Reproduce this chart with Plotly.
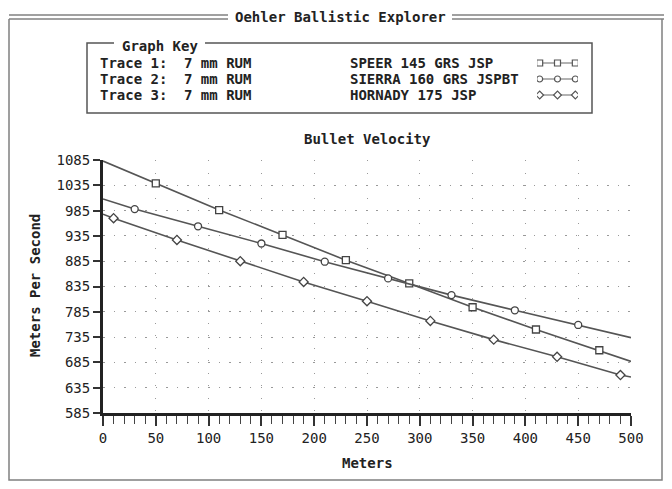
import plotly.graph_objects as go

# page has an 8px body margin, so the figure is drawn 8px in from the window edge
OFF = 8
W, H = 672 - 2 * OFF, 489 - 2 * OFF

# ---- data ----
dist1 = [0, 50, 110, 170, 230, 290, 350, 410, 470, 500]
vel1 = [1083, 1039, 986, 937, 887, 841, 794, 750, 709, 687]
dist2 = [0, 30, 90, 150, 210, 270, 330, 390, 450, 500]
vel2 = [1008, 988, 954, 920, 884, 851, 818, 788, 759, 734]
dist3 = [0, 10, 70, 130, 190, 250, 310, 370, 430, 490, 500]
vel3 = [978, 970, 927, 885, 844, 806, 767, 730, 696, 660, 656]

trace_labels = ["Trace 1:", "Trace 2:", "Trace 3:"]
cartridges = ["7 mm RUM", "7 mm RUM", "7 mm RUM"]
bullets = ["SPEER 145 GRS JSP", "SIERRA 160 GRS JSPBT", "HORNADY 175 JSP"]
symbols = ["square", "circle", "diamond"]

y_ticks = list(range(585, 1086, 50))
x_ticks = list(range(0, 501, 50))

FONT = "DejaVu Sans Mono"
TXT = "#222222"


def px(x):
    return (x - OFF) / W


def py(y):
    return 1 - (y - OFF) / H


fig = go.Figure()

series = [(dist1, vel1), (dist2, vel2), (dist3, vel3)]
for (d, v), sym in zip(series, symbols):
    fig.add_trace(go.Scatter(x=d, y=v, mode="lines",
                             line=dict(color="#555555", width=1.6),
                             hoverinfo="skip", showlegend=False))
    # markers at interior points (first and last points are curve ends only)
    fig.add_trace(go.Scatter(x=d[1:-1], y=v[1:-1], mode="markers",
                             marker=dict(symbol=sym, size=7, color="white",
                                         line=dict(color="#444444", width=1.3)),
                             showlegend=False))

# legend samples (inset axis)
for i, sym in enumerate(symbols):
    fig.add_trace(go.Scatter(x=[0, 1, 2], y=[i, i, i], mode="lines+markers",
                             xaxis="x2", yaxis="y2",
                             line=dict(color="#666666", width=1.2),
                             marker=dict(symbol=sym, size=6, color="white",
                                         line=dict(color="#555555", width=1.2)),
                             showlegend=False, hoverinfo="skip"))

fig.update_layout(
    width=W, height=H,
    margin=dict(l=0, r=0, t=0, b=0, autoexpand=False),
    paper_bgcolor="white", plot_bgcolor="white",
    font=dict(family=FONT, size=14, color=TXT),
    xaxis=dict(domain=[px(103), px(631)], range=[0, 500], automargin=False,
               tickvals=x_ticks, ticks="outside", ticklen=10, tickwidth=1.5,
               tickcolor="#333", showline=True, linewidth=3, linecolor="#222",
               showgrid=True, gridcolor="#999999", gridwidth=1,
               griddash="1px,11.5px", zeroline=False,
               tickfont=dict(family=FONT, size=14, color=TXT),
               minor=dict(dtick=10, ticks="outside", ticklen=8, tickwidth=1.2,
                          tickcolor="#444", showgrid=False),
               fixedrange=True),
    yaxis=dict(domain=[py(413), py(160)], range=[585, 1085], automargin=False,
               tickvals=y_ticks, ticks="outside", ticklen=7, tickwidth=1.5,
               tickcolor="#333", showline=True, linewidth=3, linecolor="#222",
               showgrid=True, gridcolor="#999999", gridwidth=1,
               griddash="1.5px,9px", zeroline=False,
               tickfont=dict(family=FONT, size=14, color=TXT),
               fixedrange=True),
    xaxis2=dict(domain=[px(537), px(578)], range=[-0.15, 2.15], visible=False,
                anchor="y2", automargin=False, fixedrange=True),
    yaxis2=dict(domain=[py(103), py(55)], range=[2.5, -0.5], visible=False,
                anchor="x2", automargin=False, fixedrange=True),
)

# frame and legend box shapes
shapes = []
frame_col = "#808080"
for yy in (15, 19):
    shapes.append(dict(type="line", xref="paper", yref="paper",
                       x0=px(9), x1=px(228), y0=py(yy), y1=py(yy),
                       line=dict(color=frame_col, width=1.3)))
    shapes.append(dict(type="line", xref="paper", yref="paper",
                       x0=px(452), x1=px(664), y0=py(yy), y1=py(yy),
                       line=dict(color=frame_col, width=1.3)))
shapes.append(dict(type="path", xref="paper", yref="paper",
                   path=f"M {px(9)},{py(19)} L {px(9)},{py(480)} L {px(662)},{py(480)} L {px(662)},{py(19)}",
                   line=dict(color=frame_col, width=1.5)))
box_col = "#555555"
shapes.append(dict(type="path", xref="paper", yref="paper",
                   path=(f"M {px(114)},{py(43)} L {px(87)},{py(43)} L {px(87)},{py(113)} "
                         f"L {px(592)},{py(113)} L {px(592)},{py(43)} L {px(205)},{py(43)}"),
                   line=dict(color=box_col, width=1.5)))
fig.update_layout(shapes=shapes)

ann = []
ann.append(dict(text="<b>Oehler Ballistic Explorer</b>", x=px(340), y=py(17),
                xref="paper", yref="paper", showarrow=False,
                xanchor="center", yanchor="middle", font=dict(size=14)))
ann.append(dict(text="<b>Graph Key</b>", x=px(160), y=py(46),
                xref="paper", yref="paper", showarrow=False,
                xanchor="center", yanchor="middle", font=dict(size=14)))
row_y = [63, 79, 95]
for i in range(3):
    for xx, txt in ((98, trace_labels[i]), (182, cartridges[i]), (348, bullets[i])):
        ann.append(dict(text=f"<b>{txt}</b>", x=px(xx), y=py(row_y[i]),
                        xref="paper", yref="paper", showarrow=False,
                        xanchor="left", yanchor="middle", font=dict(size=14)))
ann.append(dict(text="<b>Bullet Velocity</b>", x=px(367), y=py(139),
                xref="paper", yref="paper", showarrow=False,
                xanchor="center", yanchor="middle", font=dict(size=14)))
ann.append(dict(text="<b>Meters</b>", x=px(367), y=py(463),
                xref="paper", yref="paper", showarrow=False,
                xanchor="center", yanchor="middle", font=dict(size=14)))
ann.append(dict(text="<b>Meters Per Second</b>", x=px(35), y=py(286),
                xref="paper", yref="paper", showarrow=False, textangle=-90,
                xanchor="center", yanchor="middle", font=dict(size=14)))
fig.update_layout(annotations=ann)

fig.write_html("out.html")
